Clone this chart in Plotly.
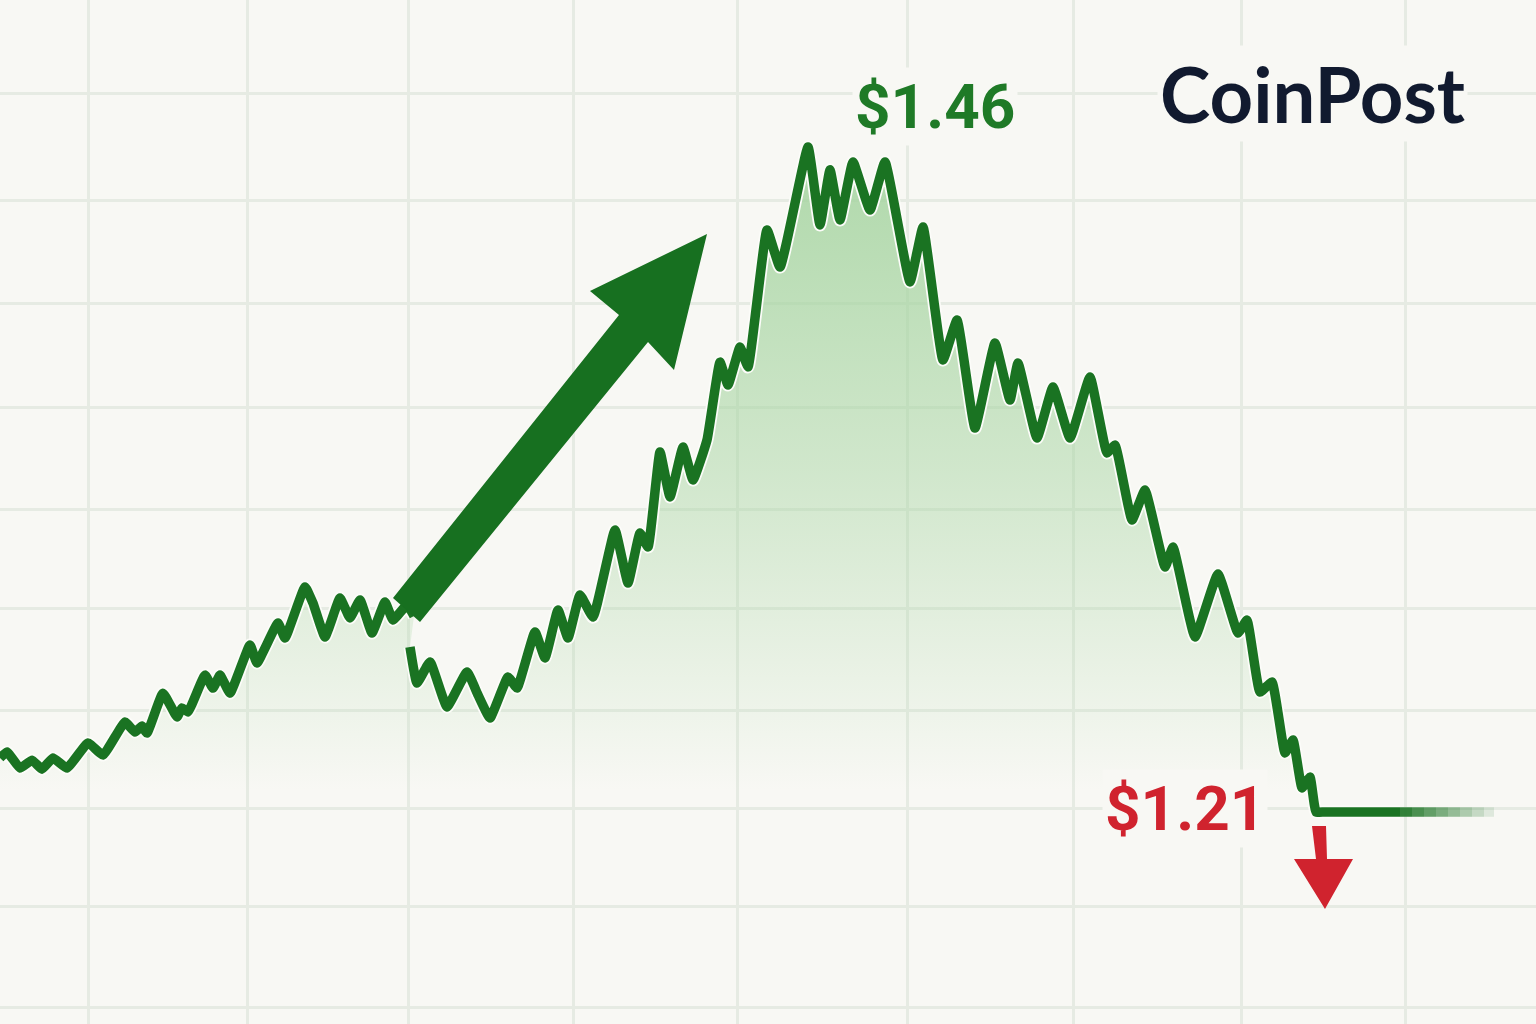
import plotly.graph_objects as go

# ---------------- data ----------------
t_seg1 = [0, 7, 20, 32, 42, 53, 67, 88, 103, 125, 135, 142, 147, 163, 177, 182, 188, 205, 213, 220,
          230, 250, 257, 278, 285, 305, 313, 325, 340, 350, 360, 372, 385, 393, 407, 414]
p_seg1 = [1.2304, 1.2327, 1.2266, 1.2296, 1.2262, 1.2304, 1.2266, 1.2361, 1.2315, 1.2440,
          1.2402, 1.2425, 1.2398, 1.2549, 1.2459, 1.2493, 1.2478, 1.2617, 1.2568, 1.2617,
          1.2549, 1.2731, 1.2663, 1.2814, 1.2757, 1.2950, 1.2889, 1.2761, 1.2908, 1.2833,
          1.2901, 1.2776, 1.2893, 1.2825, 1.2882, 1.2840]

t_seg2 = [410, 417, 430, 447, 467, 478, 490, 508, 517, 535, 545, 558, 568, 580, 593, 615, 628, 640, 648, 660,
          670, 683, 693, 707, 720, 728, 740, 748, 767, 780, 808, 820, 830, 840, 853, 870, 885, 910, 923, 943,
          957, 975, 995, 1010, 1018, 1037, 1053, 1070, 1090, 1107, 1115, 1132, 1145, 1165, 1173, 1195, 1218,
          1238, 1247, 1260, 1272, 1285, 1293, 1302, 1310, 1316, 1324, 1340, 1400]
p_seg2 = [1.2723, 1.2587, 1.2667, 1.2497, 1.2629, 1.2542, 1.2455, 1.2610, 1.2568, 1.2780,
          1.2682, 1.2863, 1.2757, 1.2920, 1.2836, 1.3165, 1.2965, 1.3154, 1.3101, 1.3460,
          1.3290, 1.3478, 1.3354, 1.3505, 1.3799, 1.3713, 1.3856, 1.3781, 1.4298, 1.4158,
          1.4611, 1.4317, 1.4525, 1.4336, 1.4555, 1.4373, 1.4555, 1.4102, 1.4309, 1.3807,
          1.3958, 1.3550, 1.3871, 1.3656, 1.3796, 1.3512, 1.3705, 1.3512, 1.3743, 1.3456,
          1.3486, 1.3203, 1.3316, 1.3025, 1.3101, 1.2761, 1.2999, 1.2776, 1.2825, 1.2553,
          1.2591, 1.2323, 1.2372, 1.2191, 1.2232, 1.2100, 1.2100, 1.2100, 1.2100]

tail_t = [1400, 1412, 1424, 1436, 1448, 1460, 1472, 1484, 1494]

high_label = "$1.46"
low_label = "$1.21"
brand = "CoinPost"

x_grid = [88, 247, 408, 573, 737, 907, 1073, 1241, 1405]
y_grid = [1.4815, 1.4411, 1.4022, 1.3626, 1.3241, 1.2870, 1.2485, 1.2115, 1.1745, 1.1360]

# ---------------- styling ----------------
BG = "#f8f8f4"
GRID = "#e6ebe3"
LINE = "#1a7322"
ARROW_G = "#177020"
RED = "#d0232e"
W, H = 1536, 1024
Y_RANGE = [1.12995, 1.51665]
LABEL_FONT = "Roboto, sans-serif"


def px(x, y):
    return f"{x / W:.5f},{1 - y / H:.5f}"


t_all = t_seg1 + [None] + t_seg2
p_all = p_seg1 + [None] + p_seg2

fig = go.Figure()

# gradient area under the price line
fig.add_trace(go.Scatter(
    x=t_all, y=p_all, mode="lines", line=dict(width=0, shape="spline", smoothing=0.35),
    fill="tozeroy", connectgaps=False,
    fillgradient=dict(type="vertical", start=1.2183, stop=1.46,
                      colorscale=[[0, "rgba(165,212,160,0)"],
                                  [0.5, "rgba(165,212,160,0.48)"],
                                  [1, "rgba(165,212,160,0.88)"]]),
    hoverinfo="skip", showlegend=False))

# light halo under the line
fig.add_trace(go.Scatter(
    x=t_all, y=p_all, mode="lines", connectgaps=False,
    line=dict(color="#fcfcf9", width=13, shape="spline", smoothing=0.35),
    hoverinfo="skip", showlegend=False))

# price line
fig.add_trace(go.Scatter(
    x=t_all, y=p_all, mode="lines", connectgaps=False,
    line=dict(color=LINE, width=9.5, shape="spline", smoothing=0.35),
    showlegend=False))

# fading flat tail
n = len(tail_t) - 1
for i in range(n):
    fig.add_trace(go.Scatter(
        x=[tail_t[i], tail_t[i + 1]], y=[p_seg2[-1], p_seg2[-1]], mode="lines",
        line=dict(color=LINE, width=9.5), opacity=max(0.0, 1 - (i + 1) / (n + 1)),
        hoverinfo="skip", showlegend=False))

# big green up-arrow
arrow_pts = [(707, 234), (674, 370), (648, 342), (420, 622), (393, 598), (619, 315), (590, 291)]
path = "M " + " L ".join(px(x, y) for x, y in arrow_pts) + " Z"
fig.add_shape(type="path", path=path, xref="paper", yref="paper",
              fillcolor=ARROW_G, line=dict(width=0), layer="above")

# red down-arrow
red_pts = [(1312, 826), (1326, 826), (1327, 859), (1353, 859), (1325, 909), (1294, 859), (1316, 859)]
path = "M " + " L ".join(px(x, y) for x, y in red_pts) + " Z"
fig.add_shape(type="path", path=path, xref="paper", yref="paper",
              fillcolor=RED, line=dict(width=0), layer="above")

# labels
fig.add_annotation(text=high_label, x=935 / W, y=1 - 106 / H, xref="paper", yref="paper",
                   xanchor="center", yanchor="middle",
                   showarrow=False, bgcolor=BG, borderpad=2,
                   font=dict(family=LABEL_FONT, size=62, color="#1f7a27", weight="bold"))
fig.add_annotation(text=low_label, x=1185 / W, y=1 - 808 / H, xref="paper", yref="paper",
                   xanchor="center", yanchor="middle",
                   showarrow=False, bgcolor=BG, borderpad=2,
                   font=dict(family=LABEL_FONT, size=62, color=RED, weight="bold"))
fig.add_annotation(text=brand, x=1312 / W, y=1 - 93 / H, xref="paper", yref="paper",
                   xanchor="center", yanchor="middle",
                   showarrow=False, bgcolor=BG, borderpad=2,
                   font=dict(family="Lato", size=76, color="#111a2f", weight="bold"))

fig.update_layout(
    width=W, height=H, margin=dict(l=0, r=0, t=0, b=0),
    paper_bgcolor=BG, plot_bgcolor=BG, showlegend=False,
    xaxis=dict(range=[0, W], tickvals=x_grid, showticklabels=False, showgrid=True,
               gridcolor=GRID, gridwidth=2.5, zeroline=False, showline=False, fixedrange=True),
    yaxis=dict(range=Y_RANGE, tickvals=y_grid, showticklabels=False, showgrid=True,
               gridcolor=GRID, gridwidth=2.5, zeroline=False, showline=False, fixedrange=True),
)

fig.write_html("out.html", config={"displayModeBar": False},
               post_script=f"document.body.style.margin='0px';document.body.style.background='{BG}';")
